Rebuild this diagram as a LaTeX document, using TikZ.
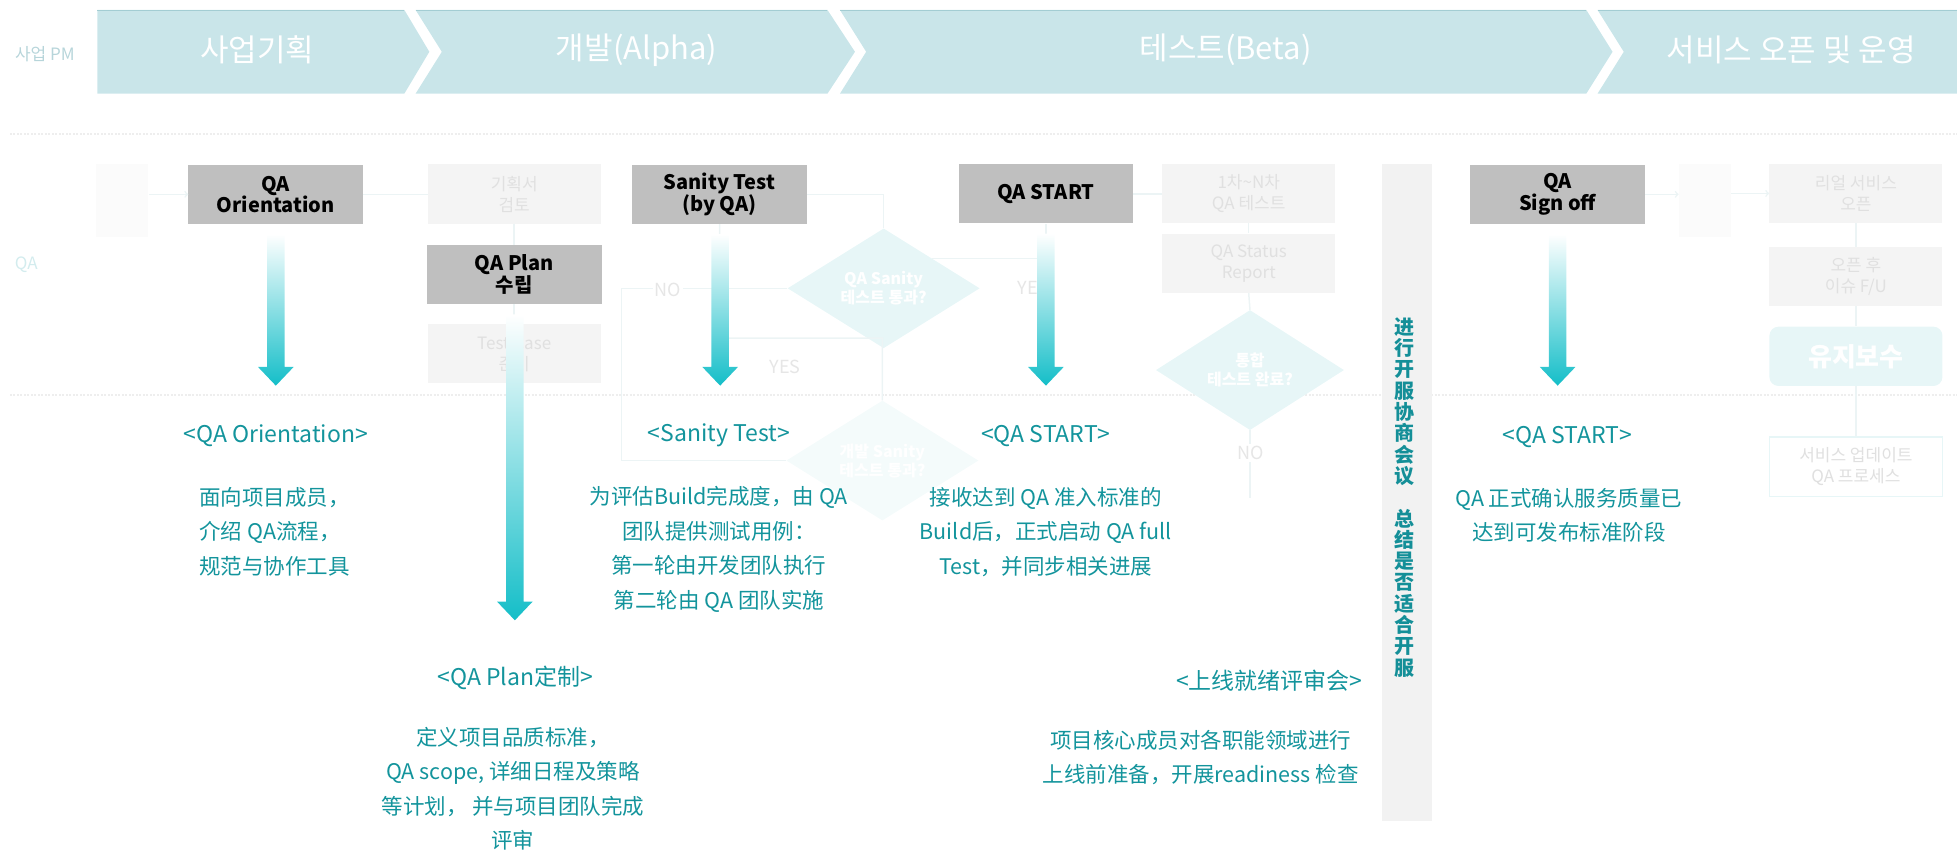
\documentclass[tikz,border=0pt]{standalone}
\usepackage{fontspec}
\setmainfont{Noto Sans CJK SC}
\newfontfamily\krfont{Noto Sans CJK KR}
\usetikzlibrary{shapes.geometric,calc}

\definecolor{bandfill}{HTML}{C9E5E9}
\definecolor{bandline}{HTML}{A3CDD3}
\definecolor{pmgray}{HTML}{B7D5DA}
\definecolor{lanecyan}{HTML}{D3ECEE}
\definecolor{boxgray}{HTML}{BFBFBF}
\definecolor{tealtext}{HTML}{13949C}
\definecolor{vteal}{HTML}{148F98}
\definecolor{arrteal}{HTML}{14BEC8}
\definecolor{barfill}{HTML}{F2F2F2}
\definecolor{ghost}{HTML}{F4F4F4}
\definecolor{ghosttext}{HTML}{E0E0E0}
\definecolor{ghostline}{HTML}{ECF4F5}
\definecolor{ghostcyan}{HTML}{E7F6F7}
\definecolor{dotgray}{HTML}{EEEEEE}

\tikzset{
  qabox/.style={fill=boxgray, minimum width=174.7pt, minimum height=59.3pt, inner sep=0pt,
    align=center, font=\krfont\bfseries\fontsize{20}{21.5}\selectfont},
  ghostbox/.style={fill=ghost, minimum width=173pt, minimum height=59.3pt, inner sep=0pt,
    align=center, text=ghosttext, font=\krfont\fontsize{17}{21}\selectfont},
  ghostcol/.style={fill=ghost!40, minimum width=52pt, minimum height=73pt, inner sep=0pt},
  ghostdiam/.style={diamond, fill=ghostcyan, minimum width=192pt, minimum height=88pt,
    inner sep=0pt, align=center, text=white, font=\krfont\bfseries\fontsize{16}{19}\selectfont},
  ghostlabel/.style={fill=white, inner sep=2pt, text=ghosttext!80, font=\fontsize{18}{20}\selectfont},
  ghostlink/.style={draw=ghostline, line width=1.5pt},
  ghostdots/.style={draw=dotgray, line width=2pt, dash pattern=on 2pt off 1.5pt},
  bandtext/.style={text=white, font=\krfont\fontsize{31}{36}\selectfont},
  stagehead/.style={text=tealtext, font=\fontsize{23}{27}\selectfont},
  stagetext/.style={text=tealtext, align=center, font=\fontsize{21.5}{34.5}\selectfont},
  vtext/.style={text=vteal, align=center, inner sep=0pt, font=\bfseries\fontsize{20}{21.3}\selectfont},
}

% gradient arrow from below a box down to a tip coordinate
\newcommand\fadearrow[2]{%
  \shade[top color=white, bottom color=arrteal]
    let \p1=(#1.south), \p2=(#2) in
    (\x2-8.7pt,\y1-10pt) -- (\x2+8.7pt,\y1-10pt) -- (\x2+8.7pt,\y2+18.7pt)
    -- (\x2+17.8pt,\y2+18.7pt) -- (\x2,\y2) -- (\x2-17.8pt,\y2+18.7pt)
    -- (\x2-8.7pt,\y2+18.7pt) -- cycle;}

\begin{document}
\begin{tikzpicture}[x=1.248pt, y=-1.248pt]
    \useasboundingbox (0,0) rectangle (1568,683);

    % phase band
    \fill[bandfill] (78,8) -- (324,8) -- (344,41.5) -- (324,75) -- (78,75) -- cycle;
    \fill[bandfill] (333,8) -- (663,8) -- (685,41.5) -- (663,75) -- (333,75) -- (354,41.5) -- cycle;
    \fill[bandfill] (673,8) -- (1271,8) -- (1292,41.5) -- (1271,75) -- (673,75) -- (694,41.5) -- cycle;
    \fill[bandfill] (1280,8) -- (1568,8) -- (1568,75) -- (1280,75) -- (1301,41.5) -- cycle;
    \foreach \a/\b in {78/324, 333/663, 673/1271, 1280/1568}
        \draw[bandline, line width=1pt] (\a,8.4) -- (\b,8.4);
    \node[bandtext] (stPlan) at (206,40) {사업기획};
    \node[bandtext] (stAlpha) at (510,40) {개발(Alpha)};
    \node[bandtext] (stBeta) at (982,40) {테스트(Beta)};
    \node[bandtext] (stOpen) at (1435,40) {서비스 오픈 및 운영};
    \node[text=pmgray, font=\krfont\fontsize{17}{20}\selectfont] (pm) at (36,43) {사업 PM};

    % lane
    \draw[ghostdots] (8,107) -- (1568,107);
    \draw[ghostdots] (8,316.5) -- (1568,316.5);
    \node[text=lanecyan, font=\fontsize{17}{20}\selectfont] (lane) at (21,212) {QA};

    % faded flow
    \node[ghostcol] (pmcol) at (98,160.5) {};
    \node[ghostbox] (review) at (412,155.5) {기획서\\검토};
    \node[ghostbox] (tcase) at (412,283.5) {Test Case\\준비};
    \node[ghostdiam] (dsanity) at (708,231) {QA Sanity\\테스트 통과?};
    \node[ghostdiam, fill=ghostcyan!45] (ddev) at (707,369) {개발 Sanity\\테스트 통과?};
    \node[ghostbox] (round) at (1000.5,155) {1차\textasciitilde N차\\QA 테스트};
    \node[ghostbox] (status) at (1000.5,211) {QA Status\\Report};
    \node[ghostdiam, minimum width=188pt, minimum height=86pt] (dint) at (1001.5,296.5) {통합\\테스트 완료?};
    \node[ghostcol] (opcol) at (1366,160.5) {};
    \node[ghostbox] (realopen) at (1487,155) {리얼 서비스\\오픈};
    \node[ghostbox] (issuefu) at (1487,221.5) {오픈 후\\이슈 F/U};
    \node[ghostbox, fill=ghostcyan, rounded corners=9pt, text=white,
          font=\krfont\bfseries\fontsize{26}{28}\selectfont] (maint) at (1487,285.5) {유지보수};
    \node[ghostbox, fill=white, draw=ghostcyan, line width=1.5pt] (update) at (1487,374) {서비스 업데이트\\QA 프로세스};
    \coordinate (noturn) at (498,231);
    \coordinate (yesturn) at (577,271);
    \coordinate (intend) at (1001.5,399);

    % QA activities
    \node[qabox] (orient) at (221,155.7) {QA\\Orientation};
    \node[qabox] (plan) at (412,220) {QA Plan\\수립};
    \node[qabox] (sanity) at (576.5,155.7) {Sanity Test\\(by QA)};
    \node[qabox] (start) at (838,155.3) {QA START};
    \node[qabox] (signoff) at (1248,155.7) {QA\\Sign off};

    \draw[ghostlink,->] (pmcol.east |- orient.west) -- (orient.west);
    \draw[ghostlink] (orient.east) -- (orient.east -| review.west);
    \draw[ghostlink] (review.south) -- (plan.north);
    \draw[ghostlink] (plan.south) -- (tcase.north);
    \draw[ghostlink] (sanity.east) -| (dsanity.north);
    \draw[ghostlink] (dsanity.west) -- (noturn) |- (ddev.west);
    \draw[ghostlink] (dsanity.north east) -| (start.south);
    \draw[ghostlink] (sanity.south) -- (yesturn) -| (ddev.north);
    \draw[ghostlink] (start.east) -- (start.east -| round.west);
    \draw[ghostlink] (round.south) -- (status.north);
    \draw[ghostlink] (status.south) -- (dint.north);
    \draw[ghostlink] (dint.south) -- (intend);
    \draw[ghostlink,->] (signoff.east) -- (signoff.east -| opcol.west);
    \draw[ghostlink,->] (opcol.east |- realopen.west) -- (realopen.west);
    \draw[ghostlink] (realopen.south) -- (issuefu.north);
    \draw[ghostlink] (issuefu.south) -- (maint.north);
    \draw[ghostlink] (maint.south) -- (update.north);
    \node[ghostlabel] (no1) at (535,232) {NO};
    \node[ghostlabel] (yes1) at (828,231) {YES};
    \node[ghostlabel] (yes2) at (629,294) {YES};
    \node[ghostlabel] (no2) at (1002,363) {NO};

    % go-live meeting
    \node[fill=barfill, minimum width=49.9pt, minimum height=657.7pt, inner sep=0pt] (bar) at (1127,394.5) {};
    \node[vtext] (meet) at (1125,398.5) {进\\行\\开\\服\\协\\商\\会\\议\\[21.3pt]总\\结\\是\\否\\适\\合\\开\\服};

    % arrows to the descriptions
    \coordinate (tipA) at (221,309);
    \coordinate (tipB) at (412.5,497);
    \coordinate (tipC) at (577,309);
    \coordinate (tipD) at (838,309);
    \coordinate (tipE) at (1248,309);
    \fadearrow{orient}{tipA}
    \fadearrow{plan}{tipB}
    \fadearrow{sanity}{tipC}
    \fadearrow{start}{tipD}
    \fadearrow{signoff}{tipE}

    \node[stagehead] (hOrient) at (221,349) {<QA Orientation>};
    \node[stagetext, align=left, anchor=west] (dOrient) at (157,426) {面向项目成员，\\介绍 QA流程，\\规范与协作工具};
    \node[stagehead] (hSanity) at (576,349) {<Sanity Test>};
    \node[stagetext] (dSanity) at (576,440) {为评估Build完成度，由 QA\\团队提供测试用例：\\第一轮由开发团队执行\\第二轮由 QA 团队实施};
    \node[stagehead] (hStart) at (838,349) {<QA START>};
    \node[stagetext] (dStart) at (838,426) {接收达到 QA 准入标准的\\Build后，正式启动 QA full\\Test，并同步相关进展};
    \node[stagehead] (hPlan) at (413,543) {<QA Plan定制>};
    \node[stagetext] (dPlan) at (411,632) {定义项目品质标准，\\QA scope, 详细日程及策略\\等计划，~并与项目团队完成\\评审};
    \node[stagehead] (hReview) at (1017,545) {<上线就绪评审会>};
    \node[stagetext] (dReview) at (962,607) {项目核心成员对各职能领域进行\\上线前准备，开展readiness 检查};
    \node[stagehead] (hSign) at (1256,350) {<QA START>};
    \node[stagetext] (dSign) at (1257,413) {QA 正式确认服务质量已\\达到可发布标准阶段};
\end{tikzpicture}
\end{document}
